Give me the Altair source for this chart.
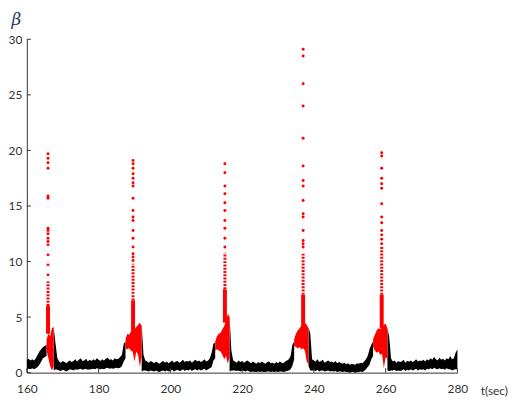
import altair as alt
import pandas as pd

STEP = 0.5  # sampling interval (s) of the band estimates below

# ---- black trace: (start time, lower edge, upper edge), sampled every 0.5 s ----
b0_start = 160.0
b0_hi = [1.15, 1.25, 1.1, 1.2, 1.1, 1.3, 1.6, 1.9, 2.1, 2.3, 2.4, 2.5]
b0_lo = [0.3, 0.35, 0.3, 0.4, 0.3, 0.4, 0.5, 0.7, 1.0, 1.3, 1.4, 1.5]

b1_start = 167.5
b1_hi = [4.0, 2.6, 1.3,
         1.0, 0.9, 1.05, 0.95, 0.85, 1.0, 1.1, 0.95, 1.05, 1.2, 1.0, 1.15, 1.3, 1.05, 1.1, 1.25, 1.0, 1.15,
         1.05, 1.2, 1.1, 1.3, 1.15, 1.05, 1.2, 1.1, 1.25, 1.35, 1.15, 1.2, 1.1, 1.3, 1.2, 1.25, 1.4, 1.6,
         2.6, 2.8]
b1_lo = [0.2, 0.3, 0.25,
         0.2, 0.15, 0.25, 0.2, 0.1, 0.2, 0.3, 0.25, 0.2, 0.3, 0.25, 0.3, 0.35, 0.25, 0.3, 0.35, 0.25, 0.3,
         0.3, 0.35, 0.3, 0.4, 0.35, 0.3, 0.35, 0.3, 0.4, 0.45, 0.35, 0.4, 0.35, 0.4, 0.45, 0.4, 0.45, 0.6,
         1.0, 1.3]

b2_start = 192.0
b2_hi = [4.4, 1.6,
         1.1, 1.0, 0.9, 1.05, 0.95, 0.85, 1.0, 0.9, 0.8, 0.95, 1.05, 0.9, 1.0, 0.85, 0.95, 1.1, 0.9, 1.0,
         1.05, 0.9, 1.0, 1.15, 0.95, 1.05, 1.0, 1.1, 0.9, 1.05, 1.15, 1.0, 1.1, 0.95, 1.05, 1.2, 1.0, 1.1, 1.3,
         1.8, 2.6, 2.7]
b2_lo = [0.1, 0.2,
         0.2, 0.15, 0.1, 0.2, 0.15, 0.1, 0.2, 0.1, 0.05, 0.15, 0.2, 0.1, 0.2, 0.1, 0.15, 0.25, 0.1, 0.2,
         0.25, 0.15, 0.2, 0.3, 0.15, 0.25, 0.2, 0.3, 0.15, 0.25, 0.3, 0.2, 0.3, 0.2, 0.25, 0.35, 0.2, 0.3, 0.4,
         0.5, 1.1, 1.3]

b3_start = 216.5
b3_hi = [5.0, 2.0, 1.1,
         1.0, 0.9, 1.1, 0.95, 1.05, 0.9, 1.0, 1.1, 0.95, 0.85, 1.0, 0.9, 0.8, 0.95, 0.85, 1.0,
         0.9, 0.8, 0.95, 1.0, 0.85, 0.9, 0.8, 0.95, 0.85, 1.0, 0.9, 0.85, 1.0, 1.1, 1.2, 1.5,
         2.5, 2.8]
b3_lo = [0.1, 0.2, 0.2,
         0.2, 0.15, 0.2, 0.1, 0.2, 0.15, 0.1, 0.2, 0.1, 0.05, 0.1, 0.05, 0.05, 0.1, 0.05, 0.1,
         0.05, 0.05, 0.1, 0.1, 0.05, 0.1, 0.05, 0.1, 0.05, 0.1, 0.1, 0.05, 0.1, 0.15, 0.2, 0.3,
         0.6, 1.2]

b4_start = 238.5
b4_hi = [4.1, 3.5, 1.2,
         1.1, 1.0, 1.2, 0.95, 1.05, 1.15, 0.9, 1.0, 1.1, 0.95, 1.0, 0.9, 1.05, 0.85, 0.95, 0.9,
         0.8, 0.9, 0.75, 0.85, 0.7, 0.8, 0.75, 0.7, 0.85, 0.8, 0.9, 0.85, 1.0, 1.2, 1.5,
         2.1, 2.5, 2.8]
b4_lo = [0.6, 0.2, 0.2,
         0.2, 0.15, 0.25, 0.1, 0.2, 0.2, 0.1, 0.15, 0.2, 0.1, 0.15, 0.1, 0.15, 0.05, 0.1, 0.1,
         0.05, 0.1, 0.05, 0.05, 0.0, 0.05, 0.05, 0.0, 0.05, 0.05, 0.1, 0.05, 0.15, 0.3, 0.5,
         0.7, 1.2, 1.5]

b5_start = 260.5
b5_hi = [4.0, 3.2, 1.3,
         1.0, 1.1, 0.9, 1.05, 0.95, 1.0, 1.15, 0.9, 1.05, 1.0, 1.1, 0.95, 1.05, 1.2, 1.0, 1.1,
         1.05, 1.15, 1.0, 1.2, 1.1, 1.3, 1.15, 1.4, 1.2, 1.1, 1.35, 1.15, 1.25, 1.1, 1.3, 1.2,
         1.5, 1.2, 1.3, 1.8, 2.1]
b5_lo = [0.2, 0.15, 0.2,
         0.2, 0.25, 0.15, 0.2, 0.15, 0.2, 0.3, 0.15, 0.25, 0.2, 0.3, 0.2, 0.25, 0.35, 0.2, 0.3,
         0.25, 0.3, 0.2, 0.35, 0.3, 0.4, 0.3, 0.45, 0.35, 0.3, 0.4, 0.3, 0.35, 0.25, 0.4, 0.3,
         0.3, 0.2, 0.25, 0.3, 0.3]

# ---- red (spike) bands ----
r1_start = 165.5
r1_hi = [3.0, 3.5, 3.3, 4.0, 4.1]
r1_lo = [2.0, 1.3, 0.6, 0.2, 0.6]
r2_start = 187.5
r2_hi = [3.0, 3.5, 3.4, 3.7, 4.0, 3.9, 4.1, 4.3, 4.5, 4.2]
r2_lo = [2.2, 2.1, 2.2, 2.0, 1.9, 1.0, 1.9, 1.6, 0.5, 1.5]
r3_start = 212.5
r3_hi = [2.8, 3.3, 3.5, 3.6, 3.9, 4.2, 4.6, 5.3, 5.0]
r3_lo = [2.0, 2.1, 2.0, 1.9, 1.6, 1.2, 1.5, 0.8, 1.4]
r4_start = 234.5
r4_hi = [3.0, 3.5, 3.8, 4.0, 4.2, 4.3, 4.5, 4.3, 4.0]
r4_lo = [2.4, 2.3, 2.2, 2.3, 2.1, 2.2, 2.0, 1.0, 0.7]
r5_start = 256.5
r5_hi = [3.0, 3.4, 3.8, 4.0, 3.9, 4.1, 4.3, 4.4, 4.0]
r5_lo = [2.3, 2.0, 1.8, 1.9, 1.6, 1.7, 0.4, 1.4, 1.2]

# ---- red spike columns ----
col_t = [165.9, 189.6, 215.2, 237.0, 258.9]
col_base_lo = [3.5, 3.8, 4.5, 4.0, 4.0]
col_base_hi = [6.0, 6.5, 7.5, 7.0, 7.0]
col_dot_hi = [8.2, 9.8, 10.8, 10.7, 11.3]

p1 = [8.8, 9.7, 10.6, 11.5, 11.8, 12.1, 12.5, 12.8, 13.0, 15.7, 15.9, 18.4, 18.9, 19.3, 19.7]
p2 = [10.1, 10.4, 10.7, 11.3, 12.1, 12.8, 13.7, 14.0, 14.6, 15.7, 16.8, 17.1, 17.5, 17.9, 18.4, 18.8, 19.1]
p3 = [11.3, 12.1, 13.0, 13.7, 14.6, 15.3, 16.1, 16.8, 18.0, 18.8]
p4 = [11.3, 11.6, 11.9, 12.8, 14.0, 14.3, 15.5, 16.8, 17.3, 18.6, 21.1, 24.0, 26.0, 28.5, 29.1]
p5 = [11.6, 12.0, 12.4, 12.8, 13.5, 14.0, 15.2, 16.6, 17.0, 17.5, 18.4, 19.5, 19.8]

x_ticks = [160, 180, 200, 220, 240, 260, 280]
y_ticks = [0, 5, 10, 15, 20, 25, 30]


def band_frame(segs, kind):
    rows = []
    for sid, (start, lo, hi) in enumerate(segs):
        for k, (l, h) in enumerate(zip(lo, hi)):
            rows.append({"t": start + STEP * k, "lo": l, "hi": h, "seg": f"{kind}{sid}"})
    return pd.DataFrame(rows)


black_df = band_frame([(b0_start, b0_lo, b0_hi), (b1_start, b1_lo, b1_hi), (b2_start, b2_lo, b2_hi),
                       (b3_start, b3_lo, b3_hi), (b4_start, b4_lo, b4_hi), (b5_start, b5_lo, b5_hi)], "b")
red_df = band_frame([(r1_start, r1_lo, r1_hi), (r2_start, r2_lo, r2_hi), (r3_start, r3_lo, r3_hi),
                     (r4_start, r4_lo, r4_hi), (r5_start, r5_lo, r5_hi)], "r")
col_df = pd.DataFrame({"t": col_t, "blo": col_base_lo, "bhi": col_base_hi, "dhi": col_dot_hi})
pts_df = pd.DataFrame([{"t": col_t[i], "v": v} for i, ps in enumerate([p1, p2, p3, p4, p5]) for v in ps])
xt_df = pd.DataFrame({"t": x_ticks, "a": 0.0, "b": 0.4})
yt_df = pd.DataFrame({"v": y_ticks, "a": 160.0, "b": 161.1})

W, H = 434, 336
FONT = "Lato"
AX = "#333333"

xs = alt.Scale(domain=[160, 280], nice=False, zero=False)
ys = alt.Scale(domain=[0, 30], nice=False, zero=False)
xaxis = alt.Axis(values=x_ticks, title="t(sec)", grid=False, ticks=False, domainColor=AX,
                 labelColor=AX, labelFont=FONT, labelFontSize=12, labelPadding=11, labelFlush=False,
                 titleFont=FONT, titleFontSize=12, titleFontWeight="normal", titleColor=AX,
                 titleX=W + 23, titleY=18, titleAlign="left", titleBaseline="middle")
yaxis = alt.Axis(values=y_ticks, title="β", grid=False, ticks=False, domainColor=AX,
                 labelColor=AX, labelFont=FONT, labelFontSize=12, labelPadding=5, labelFlush=False,
                 titleFont="DejaVu Serif", titleFontStyle="italic", titleFontSize=17,
                 titleFontWeight="normal", titleColor="#1F3864", titleAngle=0,
                 titleX=-11, titleY=-20, titleAlign="center", titleBaseline="middle")


def X(f):
    return alt.X(f, type="quantitative", scale=xs, axis=xaxis)


def Y(f):
    return alt.Y(f, type="quantitative", scale=ys, axis=yaxis)


black = alt.Chart(black_df).mark_area(color="#000000", opacity=1).encode(
    x=X("t"), y=Y("lo"), y2="hi", detail="seg:N")
red = alt.Chart(red_df).mark_area(color="#FF0000", opacity=1).encode(
    x=X("t"), y=Y("lo"), y2="hi", detail="seg:N")
col_solid = alt.Chart(col_df).mark_rule(color="#FF0000", strokeWidth=4).encode(
    x=X("t"), y=Y("blo"), y2="bhi")
col_dots = alt.Chart(col_df).mark_rule(color="#FF0000", strokeWidth=3, strokeDash=[2, 1.3]).encode(
    x=X("t"), y=Y("bhi"), y2="dhi")
pts = alt.Chart(pts_df).mark_circle(color="#FF0000", size=9, opacity=1).encode(
    x=X("t"), y=Y("v"))
xt = alt.Chart(xt_df).mark_rule(color=AX, strokeWidth=1).encode(x=X("t"), y=Y("a"), y2="b")
yt = alt.Chart(yt_df).mark_rule(color=AX, strokeWidth=1).encode(y=Y("v"), x=X("a"), x2="b")

chart = alt.layer(black, red, col_solid, col_dots, pts, xt, yt).properties(
    width=W, height=H, padding={"left": 0, "top": 1, "right": 0, "bottom": 0}, background="white"
).configure_view(stroke=None)

chart.save("out.html", embed_options={"renderer": "svg", "actions": False})
